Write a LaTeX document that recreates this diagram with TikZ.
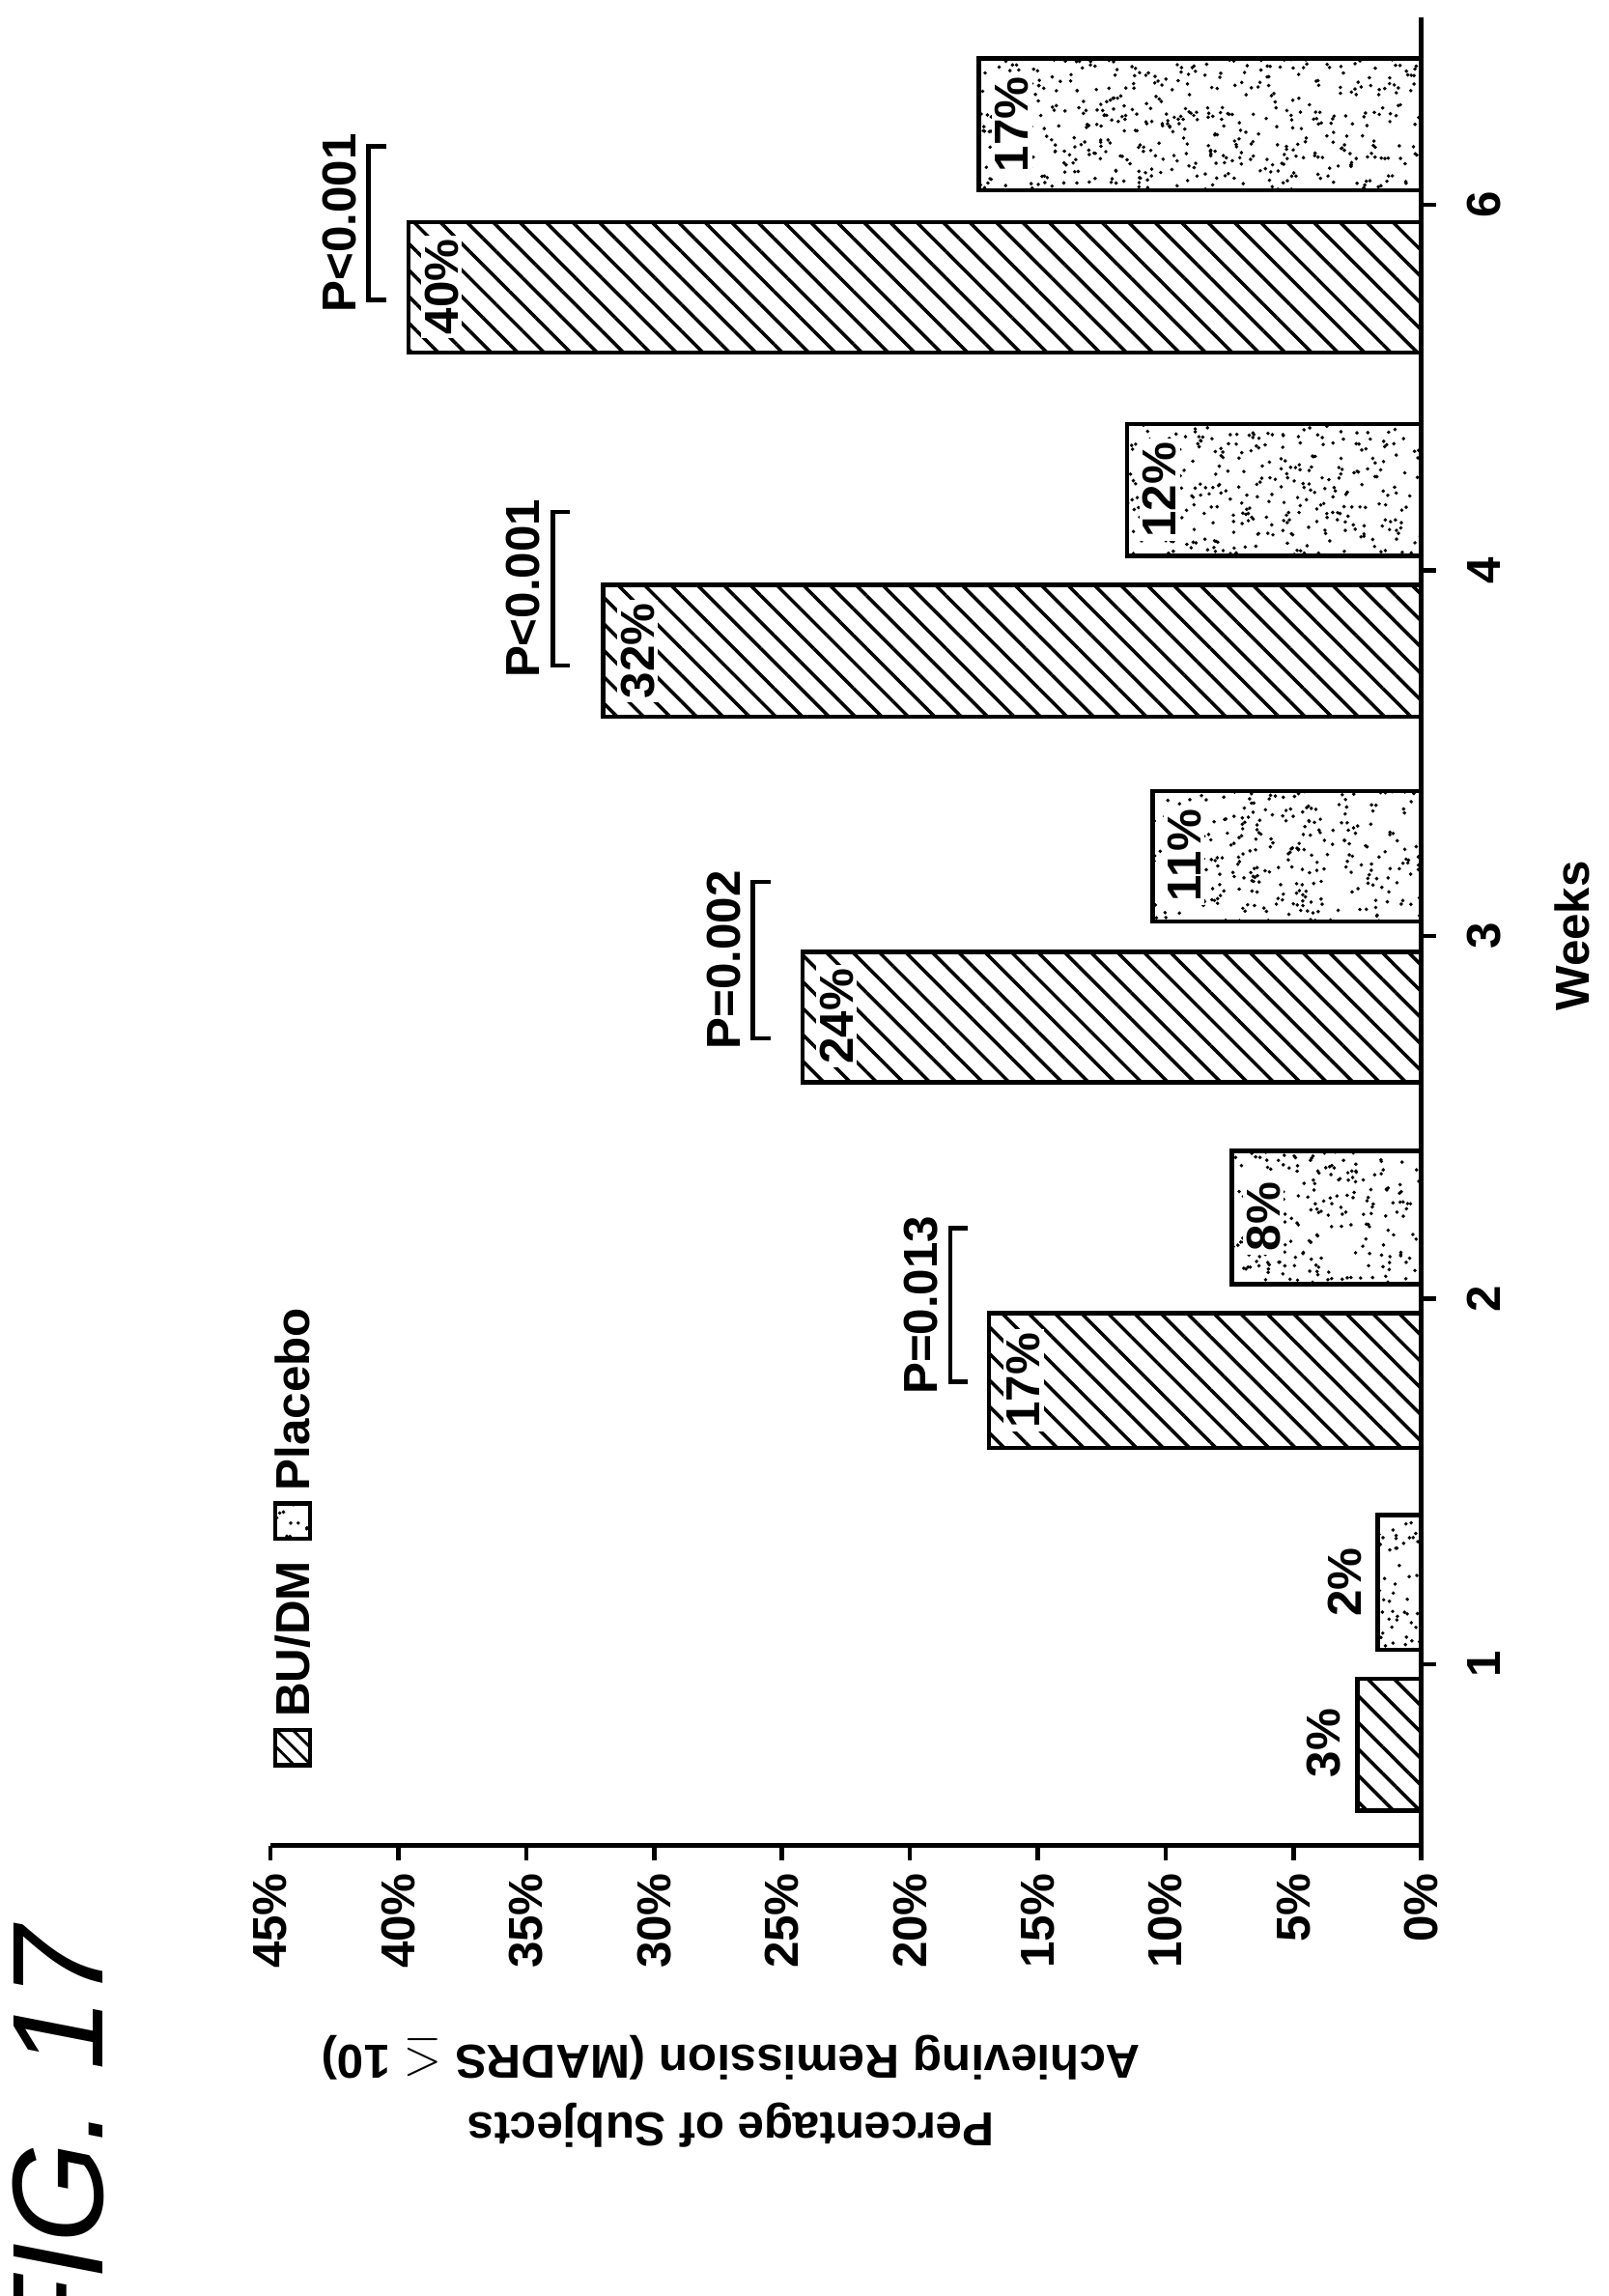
\documentclass[tikz,border=0pt]{standalone}
\usepackage{fontspec}
\setmainfont{Liberation Sans}
\usetikzlibrary{patterns.meta}
\begin{document}
\begin{tikzpicture}[x=0.0151cm,y=-0.0151cm,
  lbl/.style={rotate=90,font=\fontsize{14}{16}\selectfont\bfseries,inner sep=1pt},
  hatchbar/.style={draw,line width=1.3pt,pattern={Lines[angle=-45,distance=5.5pt,line width=1pt]}},
  dotbar/.style={draw,line width=1.3pt},
  brk/.style={line width=1.3pt}]
\useasboundingbox (0,0) rectangle (1100,1570);
\pgfmathsetseed{7}
\newcommand{\rdots}[4]{% x1 y1 x2 y2
  \begin{scope}
  \clip (#1,#2) rectangle (#3,#4);
  \pgfmathsetmacro{\nd}{int(abs(#3-#1)/11*abs(#4-#2)/5)}
  \foreach \k in {1,...,\nd}{
    \pgfmathsetmacro{\px}{#1+(#3-#1)*rnd}
    \pgfmathsetmacro{\py}{#2+(#4-#2)*rnd}
    \fill (\px,\py) circle[radius=1.3];}
  \end{scope}}
% axes
\draw[line width=1.5pt] (972,12) -- (972,1262) -- (185,1262);
\foreach \i in {0,...,9}{
  \pgfmathsetmacro{\xx}{972-\i*87.45}
  \draw[line width=1.3pt] (\xx,1262) -- (\xx,1272);
  \pgfmathtruncatemacro{\pp}{\i*5}
  \node[lbl,anchor=east] (t\i) at (\xx,1278) {\pp\%};}
\foreach \yy in {1138,888,640,390,140}
  \draw[line width=1.3pt] (972,\yy) -- (982,\yy);
\foreach \yy/\t in {1138/1,888/2,640/3,390/4,140/6}
  \node[lbl] (w\t) at (1015,\yy) {\t};
\node[lbl] (weeks) at (1075,640) {Weeks};
% bars
\foreach \v/\a/\b in {2.5/1148/1238,16.9/898/990,24.2/651/740,32/400/490,39.6/152/241}{
  \pgfmathsetmacro{\xl}{972-\v*17.49}
  \draw[hatchbar] (\xl,\a) rectangle (972,\b);}
\foreach \v/\a/\b in {1.7/1036/1128,7.4/787/878,10.5/541/630,11.5/290/380,17.3/40/130}{
  \pgfmathsetmacro{\xl}{972-\v*17.49}
  \rdots{\xl}{\a}{972}{\b}
  \draw[dotbar] (\xl,\a) rectangle (972,\b);}
% value labels
\node[lbl] (v1) at (905,1192) {3\%};
\node[lbl] (v2) at (920,1082) {2\%};
\foreach \x/\y/\t in {700/944/17\%,864/832/8\%,572/695/24\%,810/585/11\%,436/445/32\%,793/335/12\%,302/196/40\%,692/85/17\%}
  \node[lbl,fill=white] at (\x,\y) {\t};
% p brackets
\foreach \x/\a/\b/\t in {650/840/945/P=0.013,515/603/710/P=0.002,378/350/455/P<0.001,252/100/205/P<0.001}{
  \draw[brk] (\x+12,\a) -- (\x,\a) -- (\x,\b) -- (\x+12,\b);
  \node[lbl] at (\x-20,{(\a+\b)/2}) {\t};}
% legend
\draw[line width=1.2pt,pattern={Lines[angle=-45,distance=3.5pt,line width=0.8pt]}] (188,1183) rectangle (212,1207);
\node[lbl,anchor=west] (lg1) at (200,1177) {BU/DM};
\draw[line width=1.2pt] (188,1028) rectangle (212,1052);
\rdots{188}{1028}{212}{1052}
\node[lbl,anchor=west] (lg2) at (200,1022) {Placebo};
% y title
\node[rotate=180,font=\fontsize{14}{20}\selectfont\bfseries,align=center] (yt) at (500,1430)
  {Percentage of Subjects\\Achieving Remission (MADRS $\leq$ 10)};
\node[rotate=90,font=\fontsize{38}{40}\selectfont\itshape] (fig) at (40,1465) {FIG. 17};
\end{tikzpicture}
\end{document}
